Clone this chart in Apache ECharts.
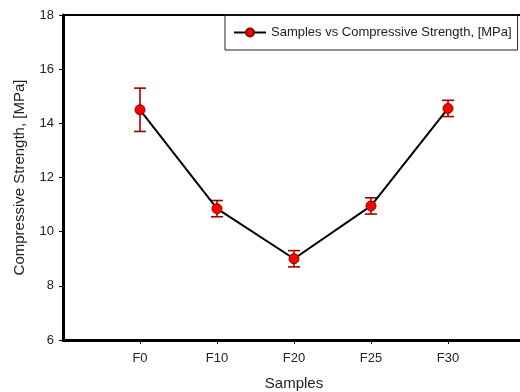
<!DOCTYPE html>
<html>
<head>
<meta charset="utf-8">
<script src="https://cdn.jsdelivr.net/npm/echarts@6/dist/echarts.min.js"></script>
<style>
  html, body { margin: 0; padding: 0; background: #fff; }
  #main { width: 520px; height: 392px; }
</style>
</head>
<body>
<div id="main"></div>
<script>
// data
const samples = ['F0', 'F10', 'F20', 'F25', 'F30']
const strength = [14.5, 10.85, 9.0, 10.95, 14.55]
const errLow = [13.7, 10.55, 8.7, 10.65, 14.25]
const errHigh = [15.3, 11.15, 9.3, 11.25, 14.85]
const yTicks = [6, 8, 10, 12, 14, 16, 18]
const seriesName = 'Samples vs Compressive Strength, [MPa]'

// blank slot on each side, like the original plot
const xCats = [''].concat(samples, [''])

const chart = echarts.init(document.getElementById('main'))

const option = {
  animation: false,
  textStyle: { fontFamily: 'Liberation Sans, Arial, sans-serif' },
  legend: {
    data: [seriesName],
    left: 225,
    top: 15,
    padding: [11, 6, 11, 8],
    itemWidth: 32,
    itemHeight: 10,
    itemGap: 8,
    borderColor: '#222',
    borderWidth: 1,
    textStyle: { color: '#222', fontSize: 13 }
  },
  grid: {
    left: 63,
    top: 15,
    width: 462,
    height: 325,
    containLabel: false,
    outerBoundsMode: 'none',
    show: true,
    borderColor: '#000',
    borderWidth: 2,
    backgroundColor: '#fff'
  },
  xAxis: {
    type: 'category',
    data: xCats,
    boundaryGap: false,
    name: 'Samples',
    nameLocation: 'middle',
    nameGap: 36,
    nameTextStyle: { color: '#222', fontSize: 15 },
    axisLine: { lineStyle: { color: '#000', width: 3 } },
    axisTick: {
      length: 4,
      interval: (i) => i > 0 && i < xCats.length - 1,
      lineStyle: { color: '#000', width: 1 }
    },
    axisLabel: { color: '#222', fontSize: 13, margin: 12, interval: 0 },
    splitLine: { show: false }
  },
  yAxis: {
    type: 'value',
    min: yTicks[0],
    max: yTicks[yTicks.length - 1],
    interval: 2,
    name: 'Compressive Strength, [MPa]',
    nameLocation: 'middle',
    nameGap: 36,
    nameTextStyle: { color: '#222', fontSize: 15 },
    axisLine: { show: true, lineStyle: { color: '#000', width: 3 } },
    axisTick: { show: true, length: 4, lineStyle: { color: '#000', width: 1 } },
    axisLabel: { color: '#222', fontSize: 13, margin: 9 },
    splitLine: { show: false }
  },
  series: [
    {
      name: 'errorbars',
      type: 'custom',
      z: 1,
      data: samples.map((s, i) => [s, errLow[i], errHigh[i]]),
      renderItem: (params, api) => {
        const x = api.value(0)
        const lo = api.coord([x, api.value(1)])
        const hi = api.coord([x, api.value(2)])
        const hw = 6
        const style = { stroke: '#a00000', lineWidth: 1.6 }
        return {
          type: 'group',
          children: [
            { type: 'line', shape: { x1: lo[0], y1: lo[1], x2: hi[0], y2: hi[1] }, style },
            { type: 'line', shape: { x1: lo[0] - hw, y1: lo[1], x2: lo[0] + hw, y2: lo[1] }, style },
            { type: 'line', shape: { x1: hi[0] - hw, y1: hi[1], x2: hi[0] + hw, y2: hi[1] }, style }
          ]
        }
      }
    },
    {
      name: seriesName,
      type: 'line',
      z: 3,
      data: samples.map((s, i) => [s, strength[i]]),
      symbol: 'circle',
      symbolSize: 10,
      lineStyle: { color: '#000', width: 2 },
      itemStyle: { color: '#ff0000', borderColor: '#8b0000', borderWidth: 1 }
    }
  ]
}

chart.setOption(option)
</script>
</body>
</html>
